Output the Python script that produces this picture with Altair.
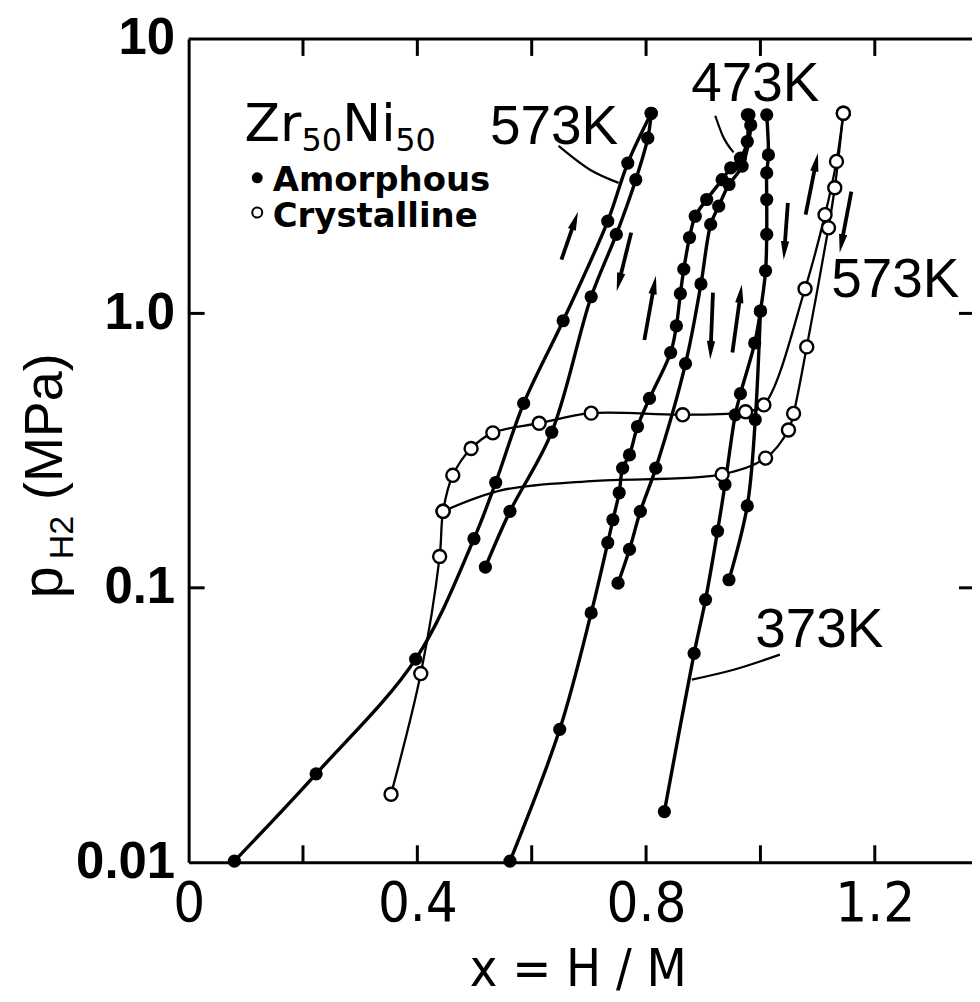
import math
import altair as alt
import pandas as pd

# ---------------- data ----------------
# Amorphous Zr50Ni50, 573 K
a573_abs_x = [0.080, 0.223, 0.397, 0.499, 0.537, 0.586, 0.655, 0.733, 0.768, 0.809]
a573_abs_p = [0.0101, 0.021, 0.055, 0.151, 0.242, 0.47, 0.94, 2.17, 3.53, 5.36]
a573_des_x = [0.809, 0.803, 0.782, 0.748, 0.704, 0.635, 0.562, 0.519]
a573_des_p = [5.36, 4.35, 3.07, 1.94, 1.15, 0.369, 0.19, 0.119]

# Amorphous, 473 K
a473_abs_x = [0.562, 0.649, 0.704, 0.733, 0.742, 0.753, 0.759, 0.771, 0.785, 0.806, 0.843,
              0.853, 0.860, 0.866, 0.876, 0.886, 0.906, 0.933, 0.948, 0.965, 0.977, 0.977]
a473_abs_p = [0.0101, 0.0305, 0.081, 0.146, 0.177, 0.222, 0.273, 0.305, 0.387, 0.49, 0.72,
              0.90, 1.18, 1.45, 1.89, 2.26, 2.60, 3.07, 3.39, 3.68, 4.23, 5.29]
a473_des_x = [0.980, 0.983, 0.968, 0.945, 0.927, 0.913, 0.896, 0.869, 0.817, 0.790, 0.771, 0.751]
a473_des_p = [5.29, 4.86, 3.44, 2.95, 2.46, 2.11, 1.28, 0.656, 0.273, 0.19, 0.138, 0.104]

# Amorphous, 373 K
a373_abs_x = [0.832, 0.884, 0.904, 0.925, 0.938, 0.956, 0.965, 0.990, 1.000, 1.009, 1.011,
              1.011, 1.011, 1.014, 1.011]
a373_abs_p = [0.0153, 0.0577, 0.0906, 0.161, 0.238, 0.427, 0.51, 0.78, 1.02, 1.43, 1.94,
              2.60, 3.25, 3.78, 5.29]
a373_des_x = [1.000, 0.991, 0.977, 0.945]
a373_des_p = [1.02, 0.41, 0.199, 0.107]

# Crystalline, 573 K
c573_abs_x = [0.354, 0.406, 0.439, 0.445, 0.462, 0.494, 0.532, 0.613, 0.704, 0.864, 0.974,
              1.006, 1.078, 1.113, 1.133, 1.145]
c573_abs_p = [0.0177, 0.0487, 0.13, 0.19, 0.257, 0.322, 0.367, 0.398, 0.433, 0.427, 0.438,
              0.464, 1.23, 2.29, 3.58, 5.36]
c573_des_x = [1.145, 1.130, 1.119, 1.081, 1.058, 1.049, 1.009, 0.933, 0.704, 0.548, 0.445]
c573_des_p = [5.36, 2.87, 2.05, 0.755, 0.432, 0.376, 0.297, 0.259, 0.245, 0.227, 0.19]
c573_des_m = [1, 1, 1, 1, 1, 1, 1, 1, 0, 0, 1]   # 1 = drawn symbol, 0 = path only

# Arrows (tail -> head)
arrow_x1 = [0.652, 0.774, 0.797, 0.917, 0.951, 1.048, 1.079, 1.159]
arrow_p1 = [1.57, 1.97, 0.80, 1.19, 0.72, 2.53, 2.29, 2.78]
arrow_x2 = [0.675, 0.753, 0.814, 0.913, 0.965, 1.042, 1.097, 1.142]
arrow_p2 = [2.16, 1.31, 1.26, 0.74, 1.17, 1.71, 3.53, 1.81]

# Temperature labels and their leader lines
temp_text = ["573K", "473K", "573K", "373K"]
temp_x = [0.639, 0.991, 1.236, 1.103]
temp_p = [4.15, 5.95, 1.143, 0.061]
lead_id = [0, 0, 0, 1, 1, 1, 2, 2, 2]
lead_x = [0.647, 0.705, 0.752, 0.921, 0.934, 0.953, 1.034, 0.953, 0.880]
lead_p = [4.08, 3.31, 2.99, 5.25, 4.44, 3.86, 0.0571, 0.0503, 0.0463]

# Alloy name pieces (Zr50Ni50)
zr_text = ["Zr", "50", "Ni", "50"]
zr_x = [0.0977, 0.1972, 0.2688, 0.3613]
zr_p = [4.26, 3.92, 4.26, 3.92]
zr_fs = [52, 32, 52, 32]

# Legend
leg_text = ["Amorphous", "Crystalline"]
leg_sym_x = [0.120, 0.120]
leg_sym_p = [3.12, 2.33]
leg_txt_x = [0.147, 0.147]
leg_txt_p = [2.80, 2.07]

# Y title pieces  p_H2 (MPa)
yt_text = ["p", "H2", "(MPa)"]
yt_x = [-0.2216, -0.2025, -0.2216]
yt_p = [0.0915, 0.127, 0.209]
yt_fs = [58, 34, 54]

x_ticks = [0.2, 0.4, 0.6, 0.8, 1.0, 1.2]
x_labels = [0, 0.4, 0.8, 1.2]
y_labels = [0.01, 0.1, 1, 10]
y_inner_ticks = [0.1, 1]

# ---------------- layout ----------------
W, H = 785, 825
XMAX = 1.37
PXU = W / XMAX
DEC = H / 3.0
NARROW = "Liberation Sans Narrow, Arial Narrow, DejaVu Sans Condensed, sans-serif"
SANS = "Liberation Sans, Arial, Helvetica, sans-serif"

rows = []
def add(name, kind, xs, ps, ms=None):
    for i, (xv, pv) in enumerate(zip(xs, ps)):
        rows.append(dict(series=name, kind=kind, order=i, x=xv, p=pv,
                         m=1 if ms is None else ms[i]))

add("a573a", "amo", a573_abs_x, a573_abs_p)
add("a573d", "amo", a573_des_x, a573_des_p)
add("a473a", "amo", a473_abs_x, a473_abs_p)
add("a473d", "amo", a473_des_x, a473_des_p)
add("a373a", "amo", a373_abs_x, a373_abs_p)
add("a373d", "amo", a373_des_x, a373_des_p)
add("c573a", "cry", c573_abs_x, c573_abs_p)
add("c573d", "cry", c573_des_x, c573_des_p, c573_des_m)
df = pd.DataFrame(rows)

xs = alt.Scale(domain=[0, XMAX], nice=False, zero=False)
ys = alt.Scale(type="log", domain=[0.01, 10], nice=False)

x_axis = alt.Axis(values=x_labels, format=".1~f", labelFont=NARROW, labelFontSize=56,
                  labelColor="black", labelPadding=14, labelFlush=False, labelOverlap=False,
                  tickSize=0, domainColor="black", domainWidth=3, grid=False,
                  title="x = H / M", titleFont=NARROW, titleFontSize=52,
                  titleFontWeight="normal", titleColor="black", titleX=390, titleY=124,
                  titleAlign="center", titleBaseline="alphabetic", titleAngle=0)
y_axis = alt.Axis(values=y_labels,
                  labelExpr="datum.value >= 9 ? '10' : datum.value >= 0.9 ? '1.0' : datum.value >= 0.09 ? '0.1' : '0.01'",
                  labelFont=SANS, labelFontWeight="bold", labelFontSize=51,
                  labelColor="black", labelPadding=14, labelFlush=False, labelOverlap=False,
                  tickSize=0, domainColor="black", domainWidth=3, grid=False, title=None)

# same axis definition in every layer so that the merged axes survive
X = alt.X("x:Q", scale=xs, axis=x_axis)
Y = alt.Y("p:Q", scale=ys, axis=y_axis)

lines = alt.Chart(df).mark_line(interpolate="catmull-rom", color="black").encode(
    x=X, y=Y, detail="series:N", order="order:Q",
    strokeWidth=alt.StrokeWidth("kind:N", scale=alt.Scale(domain=["amo", "cry"], range=[3.4, 2.3]),
                                legend=None))

filled = alt.Chart(df[(df.kind == "amo") & (df.m == 1)]).mark_circle(
    size=175, color="black", opacity=1).encode(x=X, y=Y)
opened = alt.Chart(df[(df.kind == "cry") & (df.m == 1)]).mark_point(
    shape="circle", size=170, filled=True, fill="white", stroke="black", strokeWidth=2.4,
    opacity=1).encode(x=X, y=Y)

# arrows
arr = pd.DataFrame(dict(x=arrow_x1, p=arrow_p1, x2=arrow_x2, p2=arrow_p2))
ang = []
for a, b, c, d in zip(arrow_x1, arrow_p1, arrow_x2, arrow_p2):
    dx = (c - a) * PXU
    dy = -(math.log10(d) - math.log10(b)) * DEC
    ang.append(math.degrees(math.atan2(dx, -dy)) % 360)
arr["ang"] = ang
shafts = alt.Chart(arr).mark_rule(color="black", strokeWidth=3.8).encode(
    x=X, y=Y, x2="x2:Q", y2="p2:Q")
heads_df = pd.DataFrame(dict(x=arrow_x2, p=arrow_p2, ang=ang))
heads = alt.Chart(heads_df).mark_point(
    shape="M0,-1L0.4,0.8L-0.4,0.8Z", size=430, filled=True, color="black", opacity=1,
    strokeWidth=0).encode(x=X, y=Y, angle=alt.Angle("ang:Q", scale=None))

# leader lines
lead = pd.DataFrame(dict(id=lead_id, x=lead_x, p=lead_p))
lead["o"] = range(len(lead))
leaders = alt.Chart(lead).mark_line(interpolate="monotone", color="black", strokeWidth=2.2).encode(
    x=X, y=Y, detail="id:N", order="o:Q")

temps = alt.Chart(pd.DataFrame(dict(t=temp_text, x=temp_x, p=temp_p))).mark_text(
    font=SANS, fontSize=55, align="center", baseline="alphabetic", color="black").encode(
    x=X, y=Y, text="t:N")

zr = alt.Chart(pd.DataFrame(dict(t=zr_text, x=zr_x, p=zr_p, fs=zr_fs))).mark_text(
    font="DejaVu Sans", align="left", baseline="alphabetic", color="black").encode(
    x=X, y=Y, text="t:N", size=alt.Size("fs:Q", scale=None))

leg_f = alt.Chart(pd.DataFrame(dict(x=leg_sym_x[:1], p=leg_sym_p[:1]))).mark_circle(
    size=120, color="black", opacity=1).encode(x=X, y=Y)
leg_o = alt.Chart(pd.DataFrame(dict(x=leg_sym_x[1:], p=leg_sym_p[1:]))).mark_point(
    shape="circle", size=100, filled=True, fill="white", stroke="black", strokeWidth=2,
    opacity=1).encode(x=X, y=Y)
leg_t = alt.Chart(pd.DataFrame(dict(t=leg_text, x=leg_txt_x, p=leg_txt_p))).mark_text(
    font="DejaVu Sans", fontWeight="bold", fontSize=34, align="left", baseline="alphabetic",
    color="black").encode(x=X, y=Y, text="t:N")

ytitle = alt.Chart(pd.DataFrame(dict(t=yt_text, x=yt_x, p=yt_p, fs=yt_fs))).mark_text(
    font=SANS, align="left", baseline="alphabetic", angle=270, color="black").encode(
    x=X, y=Y, text="t:N", size=alt.Size("fs:Q", scale=None))

# inward frame ticks and top border
xt = pd.DataFrame(dict(x=x_ticks))
bt = alt.Chart(xt).mark_rule(color="black", strokeWidth=3).encode(
    x=X, y=alt.value(H), y2=alt.value(H - 17))
tt = alt.Chart(xt).mark_rule(color="black", strokeWidth=3).encode(
    x=X, y=alt.value(0), y2=alt.value(17))
yt = pd.DataFrame(dict(p=y_inner_ticks))
lt = alt.Chart(yt).mark_rule(color="black", strokeWidth=3).encode(
    y=Y, x=alt.value(0), x2=alt.value(16))
rt = alt.Chart(yt).mark_rule(color="black", strokeWidth=3).encode(
    y=Y, x=alt.value(W - 13), x2=alt.value(W))
top = alt.Chart(pd.DataFrame(dict(a=[0]))).mark_rule(color="black", strokeWidth=3).encode(
    x=alt.value(0), x2=alt.value(W), y=alt.value(0))

chart = alt.layer(
    lines, leaders, shafts, heads, filled, opened, temps, zr, leg_f, leg_o, leg_t, ytitle,
    bt, tt, lt, rt, top
).properties(
    width=W, height=H,
    padding={"left": 181, "top": 30, "right": 0, "bottom": 136},
    autosize=alt.AutoSizeParams(type="none"),
    background="white",
).configure_view(stroke=None)

chart.save("out.html", embed_options={"renderer": "svg", "actions": False})
